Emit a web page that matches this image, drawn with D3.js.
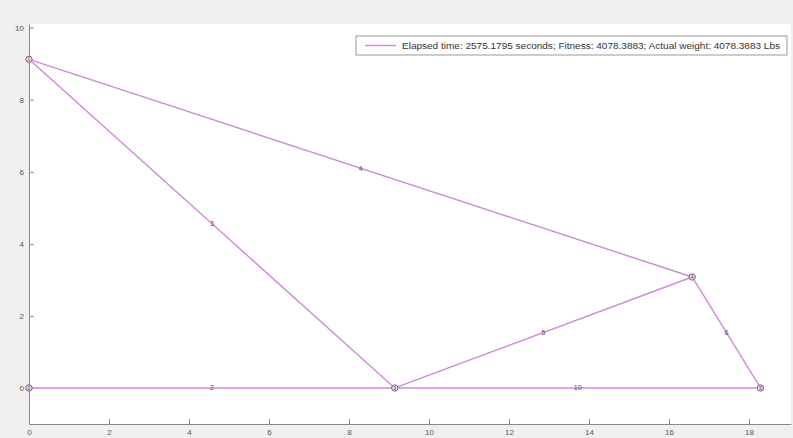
<!DOCTYPE html>
<html>
<head>
<meta charset="utf-8">
<script src="https://cdn.jsdelivr.net/npm/d3@7"></script>
<style>
  body { margin: 0; background: #f0f0f0; }
  svg { display: block; font-family: "Liberation Sans", Arial, sans-serif; }
</style>
</head>
<body>
<div id="chart"></div>
<script>
// Node coordinates (m)
const nodeX = [0, 0, 9.144, 16.58, 18.288];
const nodeY = [9.12, 0, 0, 3.08, 0];
const nodeLabels = ["1", "2", "3", "4", "5"];

// Members: start node, end node, label
const memberFrom = [0, 0, 1, 2, 2, 3];
const memberTo = [3, 2, 2, 4, 3, 4];
const memberLabels = ["4", "3", "2", "10", "5", "6"];

const xTicks = [0, 2, 4, 6, 8, 10, 12, 14, 16, 18];
const yTicks = [0, 2, 4, 6, 8, 10];
const legendText = "Elapsed time: 2575.1795 seconds; Fitness: 4078.3883; Actual weight: 4078.3883 Lbs";

const W = 793, H = 438;
const margin = { left: 29, right: 2, top: 24, bottom: 14 };

const svg = d3.select("#chart").append("svg")
    .attr("width", W)
    .attr("height", H);

const x = d3.scaleLinear().domain([0, 19.05]).range([margin.left, W - margin.right]);
const y = d3.scaleLinear().domain([-1, 10.1]).range([H - margin.bottom, margin.top]);

// axes area
svg.append("rect")
    .attr("x", x(0)).attr("y", y(10.1))
    .attr("width", x(19.05) - x(0))
    .attr("height", y(-1) - y(10.1))
    .attr("fill", "#ffffff");

// axes (ticks pointing inward, like MATLAB)
const xAxis = svg.append("g")
    .attr("transform", `translate(0,${y(-1)})`)
    .call(d3.axisBottom(x).tickValues(xTicks).tickSizeInner(-5).tickSizeOuter(0).tickPadding(5));
const yAxis = svg.append("g")
    .attr("transform", `translate(${x(0)},0)`)
    .call(d3.axisLeft(y).tickValues(yTicks).tickSizeInner(-5).tickSizeOuter(0).tickPadding(5));

[xAxis, yAxis].forEach(g => {
    g.select(".domain").attr("stroke", "#8a8a8a");
    g.selectAll(".tick line").attr("stroke", "#8a8a8a");
    g.selectAll(".tick text").attr("fill", "#555").style("font-size", "8px");
});

// members
const members = memberFrom.map((a, i) => ({ a, b: memberTo[i], label: memberLabels[i] }));

svg.selectAll(".member")
    .data(members)
    .enter().append("line")
    .attr("class", "member")
    .attr("x1", d => x(nodeX[d.a]))
    .attr("y1", d => y(nodeY[d.a]))
    .attr("x2", d => x(nodeX[d.b]))
    .attr("y2", d => y(nodeY[d.b]))
    .attr("stroke", "#cf8ad9")
    .attr("stroke-width", 1.4);

svg.selectAll(".member-label")
    .data(members)
    .enter().append("text")
    .attr("class", "member-label")
    .attr("x", d => x((nodeX[d.a] + nodeX[d.b]) / 2))
    .attr("y", d => y((nodeY[d.a] + nodeY[d.b]) / 2))
    .attr("dy", "0.35em")
    .attr("text-anchor", "middle")
    .attr("fill", "#5a4a5e")
    .style("font-size", "7px")
    .text(d => d.label);

// nodes
const nodes = nodeX.map((v, i) => ({ x: v, y: nodeY[i], label: nodeLabels[i] }));

svg.selectAll(".node")
    .data(nodes)
    .enter().append("circle")
    .attr("class", "node")
    .attr("cx", d => x(d.x))
    .attr("cy", d => y(d.y))
    .attr("r", 3.2)
    .attr("fill", "#e9d6ec")
    .attr("stroke", "#7a667e")
    .attr("stroke-width", 1);

svg.selectAll(".node-label")
    .data(nodes)
    .enter().append("text")
    .attr("class", "node-label")
    .attr("x", d => x(d.x))
    .attr("y", d => y(d.y))
    .attr("dy", "0.35em")
    .attr("text-anchor", "middle")
    .attr("fill", "#5a4a5e")
    .style("font-size", "5px")
    .text(d => d.label);

// legend
const legend = svg.append("g").attr("transform", "translate(356,36)");
legend.append("rect")
    .attr("width", 431).attr("height", 19)
    .attr("fill", "#ffffff")
    .attr("stroke", "#9a9a9a");
legend.append("line")
    .attr("x1", 9).attr("x2", 40).attr("y1", 9.5).attr("y2", 9.5)
    .attr("stroke", "#cf8ad9").attr("stroke-width", 1.4);
legend.append("text")
    .attr("x", 46).attr("y", 9.5).attr("dy", "0.35em")
    .attr("fill", "#333")
    .attr("textLength", 378)
    .attr("lengthAdjust", "spacingAndGlyphs")
    .style("font-size", "9.6px")
    .text(legendText);
</script>
</body>
</html>
